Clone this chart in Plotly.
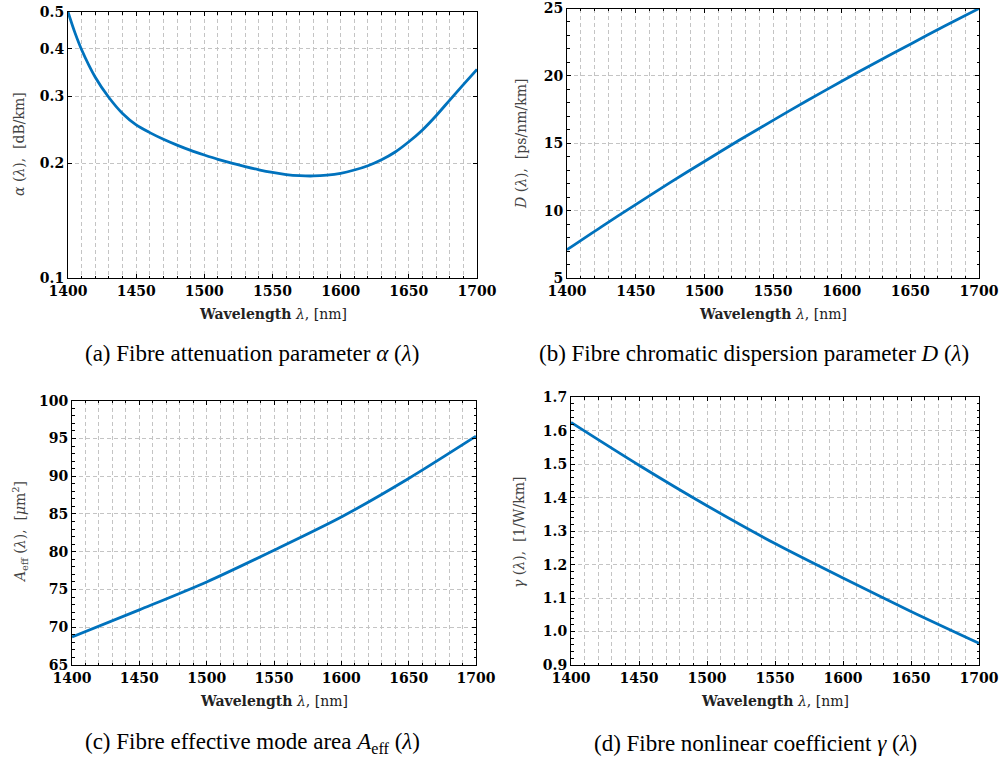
import math
import plotly.graph_objects as go

# ---------------- data ----------------
wl_alpha = [1400, 1405, 1410, 1420, 1430, 1440, 1450, 1460, 1470, 1480, 1490, 1500,
            1510, 1520, 1530, 1540, 1550, 1560, 1570, 1580, 1590, 1600, 1610, 1620,
            1630, 1640, 1650, 1660, 1670, 1680, 1690, 1700]
alpha_vals = [0.500, 0.442, 0.398, 0.337, 0.298, 0.2705, 0.2525, 0.241, 0.2315, 0.2235,
              0.2165, 0.2105, 0.205, 0.2003, 0.1962, 0.1925, 0.1894, 0.1870, 0.1857, 0.1854,
              0.1863, 0.1884, 0.1922, 0.1973, 0.2045, 0.2143, 0.2280, 0.2450, 0.2670,
              0.2935, 0.3222, 0.3535]

wl_disp = [1400, 1425, 1450, 1475, 1500, 1525, 1550, 1575, 1600, 1625, 1650, 1675, 1700]
disp_vals = [7.1, 8.8, 10.45, 12.08, 13.65, 15.2, 16.7, 18.17, 19.6, 21.0, 22.35, 23.7, 25.0]

wl_aeff = [1400, 1450, 1500, 1550, 1600, 1650, 1700]
aeff_vals = [68.7, 72.3, 76.0, 80.2, 84.6, 89.7, 95.3]

wl_gamma = [1400, 1450, 1500, 1550, 1600, 1650, 1700]
gamma_vals = [1.625, 1.497, 1.376, 1.263, 1.160, 1.060, 0.965]

x_ticks = [1400, 1450, 1500, 1550, 1600, 1650, 1700]
alpha_ticks = [0.1, 0.2, 0.3, 0.4, 0.5]
alpha_ticktext = ["0.1", "0.2", "0.3", "0.4", "0.5"]

captions = [
    "(a) Fibre attenuation parameter <i>α</i> (<i>λ</i>)",
    "(b) Fibre chromatic dispersion parameter <i>D</i> (<i>λ</i>)",
    "(c) Fibre effective mode area <i>A</i><sub>eff</sub> (<i>λ</i>)",
    "(d) Fibre nonlinear coefficient <i>γ</i> (<i>λ</i>)",
]
ylabels = [
    "<i>α</i> (<i>λ</i>),\u00a0\u00a0[dB/km]",
    "<i>D</i> (<i>λ</i>),\u00a0\u00a0[ps/nm/km]",
    "<i>A</i><sub>eff</sub> (<i>λ</i>),\u00a0\u00a0[<i>μ</i>m<sup>2</sup>]",
    "<i>γ</i> (<i>λ</i>),\u00a0\u00a0[1/W/km]",
]
xlabel = "<b>Wavelength</b> <i>λ</i>, [nm]"

# ---------------- style ----------------
W, H = 1000, 760
BLUE = "#0072BD"
GRID = "#c4c4c4"
DASH = "4px,3px"
TICKFONT = dict(family="DejaVu Serif", size=14, color="black", weight="bold")
XTITLEFONT = dict(family="DejaVu Serif", size=14, color="#222222")
YTITLEFONT = dict(family="DejaVu Serif", size=14, color="#444444")
CAPFONT = dict(family="Liberation Serif", size=23, color="black")

# pixel boxes in the final picture (left, right, top, bottom)
boxes = [
    (68, 477, 12, 278),
    (567, 979, 8.5, 278),
    (72, 476, 400.7, 665),
    (571, 979, 397.3, 665),
]

def fx(p):
    return p / W

def fy(p):
    return 1 - p / H

fig = go.Figure()
series = [(wl_alpha, alpha_vals), (wl_disp, disp_vals), (wl_aeff, aeff_vals), (wl_gamma, gamma_vals)]
for i, (xs, ys) in enumerate(series):
    sfx = "" if i == 0 else str(i + 1)
    fig.add_trace(go.Scatter(x=xs, y=ys, mode="lines",
                             line=dict(color=BLUE, width=2.8, shape="spline", smoothing=0.8),
                             xaxis="x" + sfx, yaxis="y" + sfx, showlegend=False, hoverinfo="skip"))

common_x = dict(range=[1400, 1700], tickvals=x_ticks, tickfont=TICKFONT, showline=True, linecolor="black",
                linewidth=1, mirror="allticks", ticks="inside", ticklen=4, tickcolor="black",
                showgrid=True, gridcolor=GRID, griddash=DASH, gridwidth=1, zeroline=False, automargin=False,
                ticklabeloverflow="allow",
                minor=dict(dtick=10, tick0=1400, showgrid=True, gridcolor=GRID, griddash=DASH, gridwidth=1,
                           ticks="inside", ticklen=2.5, tickcolor="black"))
common_y = dict(tickfont=TICKFONT, showline=True, linecolor="black", linewidth=1, mirror="allticks",
                ticks="inside", ticklen=4, tickcolor="black", showgrid=True, gridcolor=GRID,
                griddash=DASH, gridwidth=1, zeroline=False, automargin=False, ticklabeloverflow="allow")

yspecs = [
    dict(type="log", range=[math.log10(alpha_ticks[0]), math.log10(alpha_ticks[-1]) + 1e-6],
         tickvals=alpha_ticks, ticktext=alpha_ticktext),
    dict(range=[5, 25], dtick=5, tick0=5,
         minor=dict(dtick=1, ticks="inside", ticklen=2.5, tickcolor="black", showgrid=False)),
    dict(range=[65, 100], dtick=5, tick0=65,
         minor=dict(dtick=1, ticks="inside", ticklen=2.5, tickcolor="black", showgrid=False)),
    dict(range=[0.9, 1.7], dtick=0.1, tick0=0.9, tickformat=".1f",
         minor=dict(dtick=0.02, ticks="inside", ticklen=2.5, tickcolor="black", showgrid=False)),
]

layout = {}
for i, (l, r, t, b) in enumerate(boxes):
    sfx = "" if i == 0 else str(i + 1)
    xa = dict(common_x)
    xa["domain"] = [fx(l), fx(r)]
    xa["anchor"] = "y" + sfx
    ya = dict(common_y)
    ya.update(yspecs[i])
    ya["domain"] = [fy(b), fy(t)]
    ya["anchor"] = "x" + sfx
    layout["xaxis" + sfx] = xa
    layout["yaxis" + sfx] = ya

fig.update_layout(**layout)

annotations = []
# x axis titles
for (l, r, t, b), ty in zip(boxes, [314, 314, 701, 701]):
    annotations.append(dict(x=fx((l + r) / 2), y=fy(ty), xref="paper", yref="paper", text=xlabel,
                            showarrow=False, font=XTITLEFONT, xanchor="center", yanchor="middle"))
# y axis titles
for (cx, cy), txt in zip([(19, 144), (521, 144), (20, 532), (519, 533)], ylabels):
    annotations.append(dict(x=fx(cx), y=fy(cy), xref="paper", yref="paper", text=txt, textangle=-90,
                            showarrow=False, font=YTITLEFONT, xanchor="center", yanchor="middle"))
# captions
for (cx, cy), txt in zip([(252, 353), (754, 353), (252, 743), (755, 743)], captions):
    annotations.append(dict(x=fx(cx), y=fy(cy), xref="paper", yref="paper", text=txt,
                            showarrow=False, font=CAPFONT, xanchor="center", yanchor="middle"))

fig.update_layout(width=W, height=H, margin=dict(l=0, r=0, t=0, b=0, autoexpand=False),
                  paper_bgcolor="white", plot_bgcolor="white", annotations=annotations)

fig.write_html("out.html", config={"displayModeBar": False},
               post_script="document.body.style.margin='0';document.body.style.overflow='hidden';")
